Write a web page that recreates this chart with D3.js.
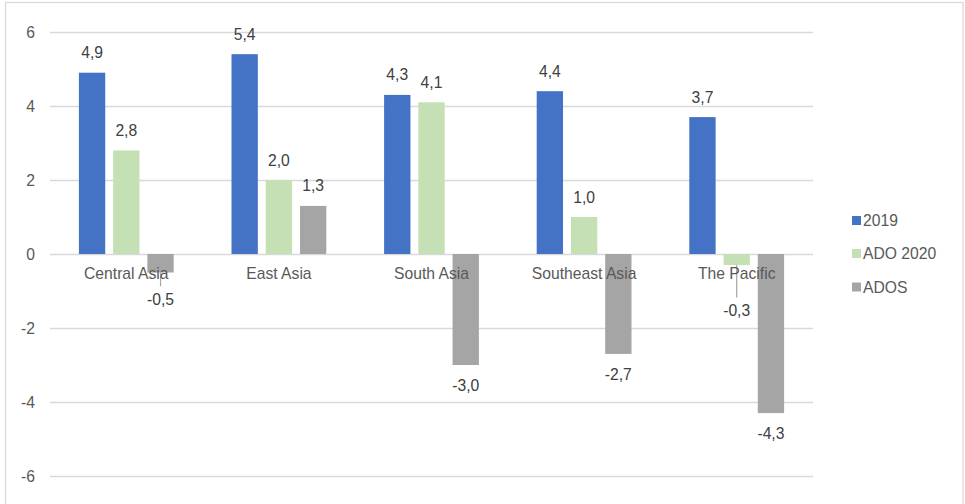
<!DOCTYPE html>
<html>
<head>
<meta charset="utf-8">
<script src="https://cdn.jsdelivr.net/npm/d3@7"></script>
<style>
  html, body { margin: 0; padding: 0; background: #fff; }
  svg { display: block; font-family: "Liberation Sans", Arial, sans-serif; }
</style>
</head>
<body>
<svg id="chart" width="965" height="504"></svg>
<script>
const categories = ["Central Asia", "East Asia", "South Asia", "Southeast Asia", "The Pacific"];
const seriesNames = ["2019", "ADO 2020", "ADOS"];
const values2019 = [4.9, 5.4, 4.3, 4.4, 3.7];
const valuesADO2020 = [2.8, 2.0, 4.1, 1.0, -0.3];
const valuesADOS = [-0.5, 1.3, -3.0, -2.7, -4.3];
const yTicks = [-6, -4, -2, 0, 2, 4, 6];
const colors = ["#4472C4", "#C5E0B4", "#A5A5A5"];

const seriesValues = [values2019, valuesADO2020, valuesADOS];

const svg = d3.select("#chart");
const W = 965, H = 504;
const plot = { left: 50, right: 813, top: 32, bottom: 476 };

const locale = d3.formatLocale({ decimal: ",", thousands: ".", grouping: [3], currency: ["", ""], minus: "-" });
const fmt1 = locale.format(".1f");
const fmt0 = locale.format("d");

const y = d3.scaleLinear().domain([-6, 6]).range([plot.bottom, plot.top]);
const x0 = d3.scaleBand().domain(categories).range([plot.left, plot.right]).paddingInner(0).paddingOuter(0);
const x1 = d3.scaleBand().domain(seriesNames).range([-47.4, 47.4]).paddingInner(0.231).paddingOuter(0);
const color = d3.scaleOrdinal().domain(seriesNames).range(colors);

// chart border
svg.append("rect")
  .attr("x", 5.5).attr("y", 2.5)
  .attr("width", 957.5).attr("height", 510)
  .attr("fill", "none").attr("stroke", "#D9D9D9").attr("stroke-width", 1.3);

// gridlines
const grid = svg.append("g").attr("transform", `translate(${plot.left},0)`)
  .call(d3.axisLeft(y).tickValues(yTicks).tickSize(-(plot.right - plot.left)).tickFormat(""));
grid.select(".domain").remove();
grid.selectAll(".tick line").attr("stroke", "#D9D9D9").attr("stroke-width", 1.3);

// y axis labels
const yAxis = svg.append("g").attr("transform", `translate(${plot.left},0)`)
  .call(d3.axisLeft(y).tickValues(yTicks).tickSize(0).tickPadding(15).tickFormat(d => fmt0(d)));
yAxis.select(".domain").remove();
yAxis.selectAll("text")
  .attr("fill", "#595959").style("font-size", "15.7px")
  .style("font-family", '"Liberation Sans", Arial, sans-serif');

// data
const rows = [];
categories.forEach((c, ci) => {
  seriesNames.forEach((s, si) => {
    rows.push({ cat: c, series: s, value: seriesValues[si][ci] });
  });
});

const cx = d => x0(d.cat) + x0.bandwidth() / 2 + x1(d.series);

svg.append("g").selectAll("rect")
  .data(rows).join("rect")
  .attr("x", d => cx(d))
  .attr("width", x1.bandwidth())
  .attr("y", d => y(Math.max(0, d.value)))
  .attr("height", d => Math.abs(y(d.value) - y(0)))
  .attr("fill", d => color(d.series));

// data labels
const nudges = { "Central Asia|ADOS": 7, "The Pacific|ADO 2020": 25.5 };
const labG = svg.append("g");
rows.forEach(d => {
  const xc = cx(d) + x1.bandwidth() / 2;
  const key = d.cat + "|" + d.series;
  const nudge = nudges[key] || 0;
  let yb;
  if (d.value >= 0) {
    yb = y(d.value) - 14.5;
  } else {
    yb = y(d.value) + 14.5 + 11.3 + nudge;
  }
  if (nudge) {
    labG.append("line")
      .attr("x1", xc).attr("x2", xc)
      .attr("y1", y(d.value)).attr("y2", yb - 19)
      .attr("stroke", "#A6A6A6").attr("stroke-width", 1.2);
  }
  labG.append("text")
    .attr("x", xc).attr("y", yb)
    .attr("text-anchor", "middle")
    .attr("fill", "#404040")
    .style("font-size", "15.7px")
    .text(fmt1(d.value));
});

// category labels
svg.append("g").selectAll("text")
  .data(categories).join("text")
  .attr("x", d => x0(d) + x0.bandwidth() / 2)
  .attr("y", y(0) + 24.7)
  .attr("text-anchor", "middle")
  .attr("fill", "#595959")
  .style("font-size", "15.7px")
  .text(d => d);

// legend
const legendY = [220.5, 253.5, 287];
const lg = svg.append("g");
seriesNames.forEach((s, i) => {
  lg.append("rect")
    .attr("x", 852).attr("y", legendY[i] - 4.5)
    .attr("width", 9).attr("height", 9)
    .attr("fill", color(s));
  lg.append("text")
    .attr("x", 863).attr("y", legendY[i] + 5.6)
    .attr("fill", "#595959")
    .style("font-size", "15.7px")
    .text(s);
});
</script>
</body>
</html>
